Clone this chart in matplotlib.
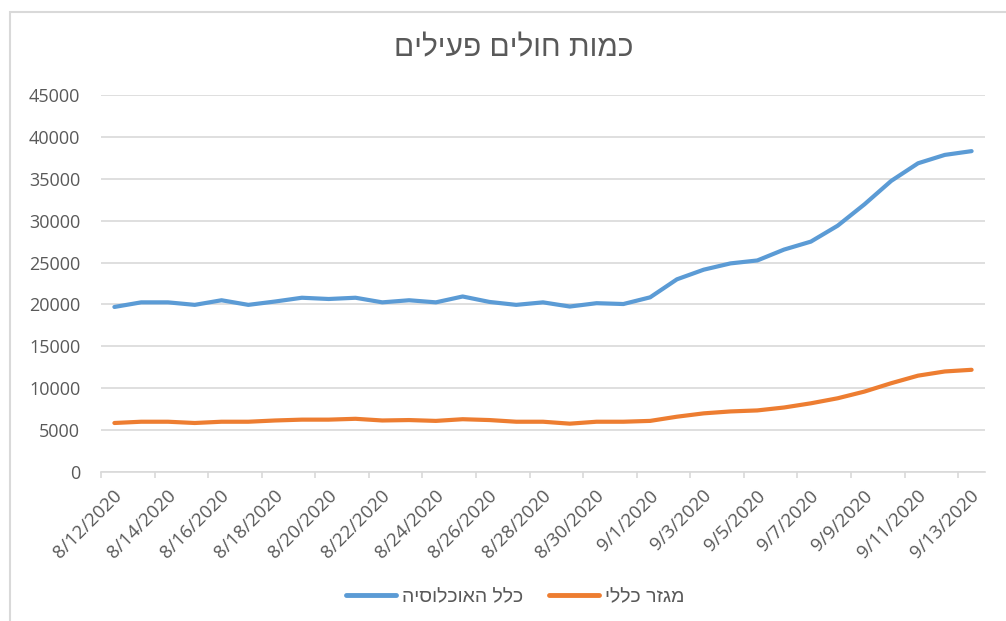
import matplotlib
matplotlib.use("Agg")
import matplotlib.pyplot as plt
import matplotlib.patches as mpatches
from matplotlib.lines import Line2D
from matplotlib.transforms import ScaledTranslation
import pandas as pd

plt.rcParams['font.family'] = ['Open Sans', 'DejaVu Sans']
hebrew_font = ['Liberation Sans', 'DejaVu Sans']

# ---- data ----
title = "כמות חולים פעילים"
series_names = ["כלל האוכלוסיה", "מגזר כללי"]
dates = pd.date_range("2020-08-12", "2020-09-13", freq="D")
date_labels = [f"{d.month}/{d.day}/{d.year}" for d in dates]

all_population = [19700, 20250, 20250, 19950, 20500, 19950, 20350, 20800, 20650, 20800,
                  20250, 20500, 20250, 20950, 20300, 19950, 20250, 19750, 20150, 20050,
                  20850, 23000, 24150, 24900, 25250, 26550, 27500, 29400, 31950, 34750,
                  36850, 37850, 38300]
general_sector = [5850, 6000, 6000, 5850, 6000, 6000, 6150, 6250, 6250, 6350,
                  6150, 6200, 6100, 6300, 6200, 6000, 6000, 5770, 6000, 6000,
                  6100, 6600, 7000, 7230, 7350, 7700, 8200, 8800, 9600, 10600,
                  11500, 12000, 12200]
y_ticks = list(range(0, 45001, 5000))

colors = ["#5B9BD5", "#ED7D31"]
text_color = "#595959"
grid_color = "#D9D9D9"


def vis(s):
    # visual (left-to-right) order for right-to-left Hebrew text
    return s[::-1]


W, H = 1006, 621
fig = plt.figure(figsize=(W / 100, H / 100), dpi=100)
ax = fig.add_axes([101 / W, 1 - 472 / H, (985 - 101) / W, (472 - 95) / H])

x = list(range(len(dates)))
for vals, c in zip([all_population, general_sector], colors):
    ax.plot(x, vals, color=c, lw=3.0, solid_capstyle='round', solid_joinstyle='round', zorder=3)

ax.set_xlim(-0.5, len(dates) - 0.5)
ax.set_ylim(0, 45000)
ax.set_yticks(y_ticks)
ax.set_yticklabels([str(v) for v in y_ticks])
ax.yaxis.grid(True, color=grid_color, lw=1.2)
ax.set_axisbelow(True)
for s in ['left', 'right', 'top']:
    ax.spines[s].set_visible(False)
ax.spines['bottom'].set_color(grid_color)
ax.spines['bottom'].set_linewidth(1.2)
ax.tick_params(axis='y', length=0, pad=15, labelsize=13, labelcolor=text_color)

ax.set_xticks(x[::2])
ax.set_xticklabels(date_labels[::2])
ax.set_xticks([i - 0.5 for i in x[::2]], minor=True)
ax.tick_params(axis='x', which='major', length=0, pad=15, labelsize=13.5, labelcolor=text_color)
ax.tick_params(axis='x', which='minor', length=4, width=1.2, color=grid_color, direction='out')
for lab in ax.get_xticklabels():
    lab.set_rotation(45)
    lab.set_rotation_mode('anchor')
    lab.set_ha('right')
    lab.set_va('center')
    lab.set_transform(lab.get_transform() + ScaledTranslation(0.05, 0, fig.dpi_scale_trans))

fig.text(514 / W, 1 - 48 / H, vis(title), ha='center', va='center', fontsize=21.5,
         color=text_color, family=hebrew_font)

handles = [Line2D([0], [0], color=c, lw=3.5, solid_capstyle='round') for c in colors]
fig.legend(handles, [vis(n) for n in series_names], loc='center', bbox_to_anchor=(515 / W, 1 - 597 / H),
           ncol=2, frameon=False, prop={'family': hebrew_font, 'size': 14}, handlelength=2.6,
           handletextpad=0.3, columnspacing=1.3, labelcolor=text_color)

frame = mpatches.Rectangle((10 / W, -0.1), 1.2, 1 - 12 / H + 0.1, transform=fig.transFigure,
                           fill=False, edgecolor=grid_color, lw=1.5, clip_on=False)
fig.patches.append(frame)

fig.savefig("out.png", dpi=100, facecolor='white')
